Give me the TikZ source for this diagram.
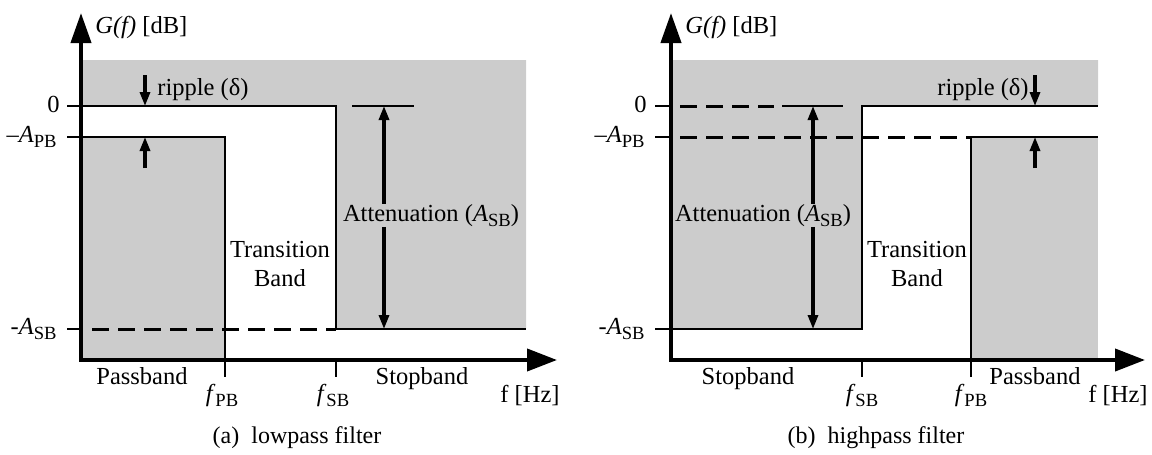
\documentclass[tikz,border=0pt]{standalone}
\usepackage{fontspec}
\setmainfont{Liberation Serif}
\usetikzlibrary{arrows.meta}
\newcommand{\lowsub}[1]{\raisebox{-2.6pt}{\fontsize{9.3}{10}\selectfont #1}}

\begin{document}
\begin{tikzpicture}[x=0.5pt, y=-0.5pt, font=\fontsize{12.25}{14.7}\selectfont,
    axisline/.style={line width=2pt, {Triangle[width=10pt,length=15pt]}-{Triangle[width=11pt,length=15pt]}},
    bandline/.style={line width=1.4pt},
    dashline/.style={line width=1.5pt, dash pattern=on 8.5pt off 4.5pt},
    bandarrow/.style={line width=1.6pt, -{Triangle[width=5pt,length=7pt]}},
    stopfill/.style={fill=gray!40},
    txt/.style={anchor=base, inner sep=0pt}]
  \useasboundingbox (0,0) rectangle (1152,455);

  % (a) lowpass
  \fill[stopfill] (81,60) -- (526,60) -- (526,329) -- (336,329) -- (336,106) -- (81,106) -- cycle;
  \fill[stopfill] (81,137) rectangle (225,360);
  \draw[bandline] (67,106) -- (336,106) -- (336,329) -- (526,329);
  \draw[bandline] (67,137) -- (225,137) -- (225,377);
  \draw[bandline] (67,329) -- (81,329);
  \draw[dashline] (92,329) -- (336,329);
  \draw[bandline] (336,360) -- (336,377);
  \draw[bandline] (352,106) -- (414,106);
  \draw[axisline] (81,13) -- (81,360) -- (557,360);

  \node[txt, anchor=base west] (gainL) at (95,33) {\textit{G(f)} [dB]};
  \node[txt, anchor=base east] (zeroL) at (60,112) {0};
  \node[txt, anchor=base east] (apbL) at (57,142) {–\textit{A}\lowsub{PB}};
  \node[txt, anchor=base east] (asbL) at (57,334) {-\textit{A}\lowsub{SB}};
  \node[txt, anchor=base west] (rippleL) at (157,95) {ripple (δ)};
  \node[align=center, inner sep=0pt] (transL) at (280,264) {Transition\\Band};
  \node[txt] (attL) at (431,221) {Attenuation (\textit{A}\lowsub{SB})};
  \node[txt] (passL) at (142,384) {Passband};
  \node[txt] (fpbL) at (222,401) {\textit{f}\lowsub{PB}};
  \node[txt] (fsbL) at (333,401) {\textit{f}\lowsub{SB}};
  \node[txt] (stopL) at (422,384) {Stopband};
  \node[txt] (freqL) at (530,402) {f [Hz]};
  \node[txt, font=\fontsize{12}{14}\selectfont] (capL) at (297,443) {(a)\hspace{0.5em}lowpass filter};

  \coordinate (ripLa) at (145,75);
  \coordinate (ripLb) at (145,106);
  \coordinate (ripLc) at (145,137);
  \coordinate (ripLd) at (145,168);
  \draw[bandarrow] (ripLa) -- (ripLb);
  \draw[bandarrow] (ripLd) -- (ripLc);
  \coordinate (attLtop) at (384,106);
  \coordinate (attLbot) at (384,329);
  \draw[bandarrow] (attL.north -| attLtop) -- (attLtop);
  \draw[bandarrow] (attL.south -| attLbot) -- (attLbot);

  % (b) highpass
  \fill[stopfill] (671,60) -- (1098,60) -- (1098,106) -- (862,106) -- (862,329) -- (671,329) -- cycle;
  \fill[stopfill] (971,137) rectangle (1098,360);
  \draw[bandline] (655,329) -- (862,329) -- (862,106) -- (1098,106);
  \draw[bandline] (971,377) -- (971,137) -- (1098,137);
  \draw[bandline] (655,106) -- (671,106);
  \draw[bandline] (655,137) -- (671,137);
  \draw[dashline] (680,106) -- (774,106);
  \draw[dashline] (680,137) -- (971,137);
  \draw[bandline] (862,360) -- (862,377);
  \draw[bandline] (782,106) -- (843,106);
  \draw[axisline] (671,13) -- (671,360) -- (1145,360);

  \node[txt, anchor=base west] (gainR) at (685,33) {\textit{G(f)} [dB]};
  \node[txt, anchor=base east] (zeroR) at (647,112) {0};
  \node[txt, anchor=base east] (apbR) at (645,142) {–\textit{A}\lowsub{PB}};
  \node[txt, anchor=base east] (asbR) at (645,334) {-\textit{A}\lowsub{SB}};
  \node[txt, anchor=base east] (rippleR) at (1029,95) {ripple (δ)};
  \node[align=center, inner sep=0pt] (transR) at (917,264) {Transition\\Band};
  \node[txt] (attR) at (763,221) {Attenuation (\textit{A}\lowsub{SB})};
  \node[txt] (stopR) at (748,384) {Stopband};
  \node[txt] (fsbR) at (862,401) {\textit{f}\lowsub{SB}};
  \node[txt] (fpbR) at (971,401) {\textit{f}\lowsub{PB}};
  \node[txt] (passR) at (1035,384) {Passband};
  \node[txt] (freqR) at (1118,402) {f [Hz]};
  \node[txt, font=\fontsize{12}{14}\selectfont] (capR) at (876,443) {(b)\hspace{0.5em}highpass filter};

  \coordinate (ripRa) at (1035,75);
  \coordinate (ripRb) at (1035,106);
  \coordinate (ripRc) at (1035,137);
  \coordinate (ripRd) at (1035,168);
  \draw[bandarrow] (ripRa) -- (ripRb);
  \draw[bandarrow] (ripRd) -- (ripRc);
  \coordinate (attRtop) at (813,106);
  \coordinate (attRbot) at (813,329);
  \draw[bandarrow] (attR.north -| attRtop) -- (attRtop);
  \draw[bandarrow] (attR.south -| attRbot) -- (attRbot);
\end{tikzpicture}
\end{document}
